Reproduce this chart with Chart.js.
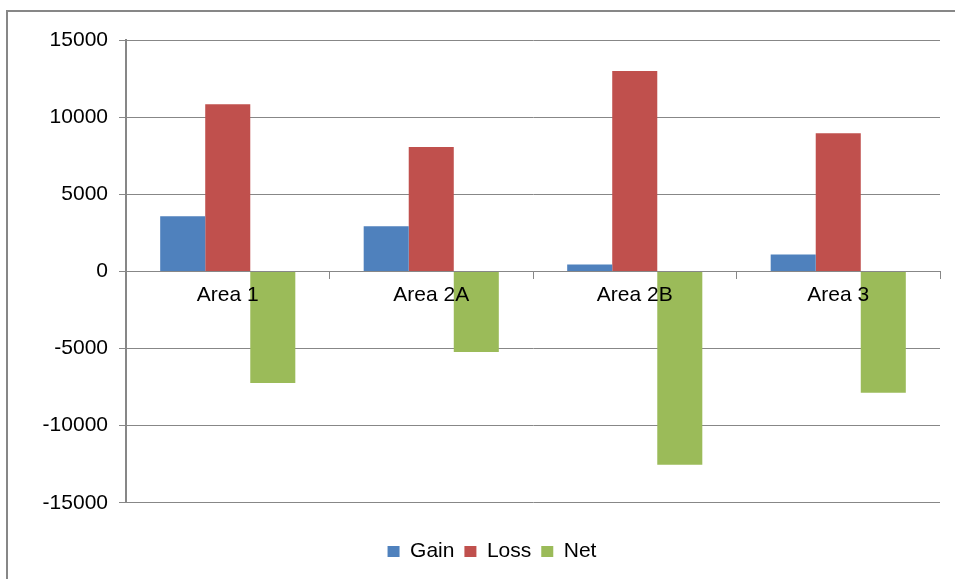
<!DOCTYPE html>
<html>
<head>
<meta charset="utf-8">
<script src="https://cdn.jsdelivr.net/npm/chart.js@4/dist/chart.umd.min.js"></script>
<style>
  html, body { margin: 0; padding: 0; background: #ffffff; }
  #wrap { width: 955px; height: 579px; position: relative; }
</style>
</head>
<body>
<div id="wrap"><canvas id="chart" width="955" height="579"></canvas></div>
<script>
// Categories and series
const areas = ['Area 1', 'Area 2A', 'Area 2B', 'Area 3'];
const gain = [3570, 2920, 450, 1100];
const loss = [10840, 8070, 12990, 8960];
const net = [-7230, -5230, -12540, -7860];

// Value axis ticks
const yMin = -15000;
const yMax = 15000;
const yStep = 5000;

const axisGrey = '#878787';
const fontFamily = '"Liberation Sans", Arial, sans-serif';

// Outer frame of the chart object (left and top edges)
const framePlugin = {
  id: 'frame',
  beforeDraw(chart) {
    const ctx = chart.ctx;
    ctx.save();
    ctx.strokeStyle = axisGrey;
    ctx.lineWidth = 2;
    ctx.beginPath();
    ctx.moveTo(7, chart.height + 5);
    ctx.lineTo(7, 11);
    ctx.lineTo(chart.width + 5, 11);
    ctx.stroke();
    ctx.restore();
  },
  // centre the legend row a little right of the canvas centre
  afterLayout(chart) {
    if (chart.legend) {
      chart.legend.left += 11;
      chart.legend.right += 11;
    }
  }
};

new Chart(document.getElementById('chart'), {
  type: 'bar',
  data: {
    labels: areas,
    datasets: [
      { label: 'Gain', data: gain, backgroundColor: '#4F81BD' },
      { label: 'Loss', data: loss, backgroundColor: '#C0504D' },
      { label: 'Net', data: net, backgroundColor: '#9BBB59' }
    ]
  },
  options: {
    responsive: false,
    animation: false,
    devicePixelRatio: 1,
    layout: { padding: { top: 40, left: 22, right: 15, bottom: 7 } },
    datasets: {
      bar: { barPercentage: 1, categoryPercentage: 0.664, borderWidth: 0 }
    },
    scales: {
      x: {
        position: { y: 0 },
        offset: true,
        grid: {
          offset: true,
          drawOnChartArea: false,
          drawTicks: true,
          tickLength: 7,
          color: axisGrey,
          lineWidth: 1
        },
        border: { display: true, color: axisGrey, width: 1 },
        ticks: {
          z: 1,
          color: '#000000',
          padding: 4,
          font: { family: fontFamily, size: 21 },
          maxRotation: 0
        }
      },
      y: {
        min: yMin,
        max: yMax,
        afterFit(scale) { scale.width = 104; },
        grid: {
          color: axisGrey,
          lineWidth: 1,
          drawTicks: true,
          tickLength: 7
        },
        border: { display: true, color: axisGrey, width: 2 },
        ticks: {
          stepSize: yStep,
          color: '#000000',
          padding: 11,
          font: { family: fontFamily, size: 21 },
          callback: (v) => String(v)
        }
      }
    },
    plugins: {
      tooltip: { enabled: false },
      legend: {
        position: 'bottom',
        title: {
          display: true,
          text: ' ',
          font: { size: 1 },
          padding: { top: 27, bottom: 0 }
        },
        labels: {
          boxWidth: 12,
          boxHeight: 11,
          padding: 10,
          color: '#000000',
          font: { family: fontFamily, size: 21 }
        }
      }
    }
  },
  plugins: [framePlugin]
});
</script>
</body>
</html>
